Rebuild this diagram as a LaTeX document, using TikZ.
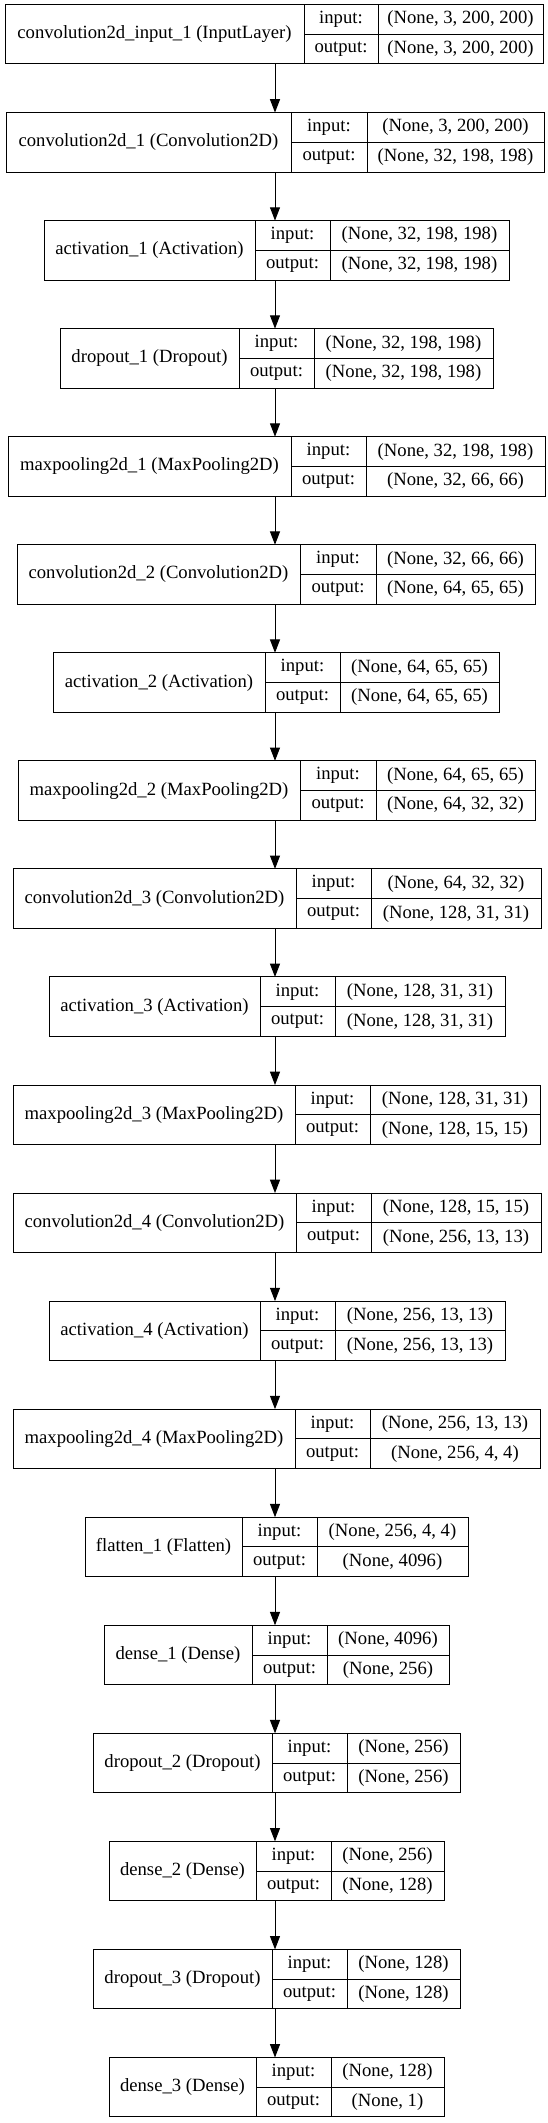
\documentclass[tikz,border=0pt]{standalone}
\usepackage{fontspec}
\setmainfont{Liberation Serif}
\usetikzlibrary{arrows.meta}
\tikzset{every picture/.style={line width=0.75pt}}
\tikzset{
  cell/.style={draw, inner sep=0pt, outer sep=0pt, anchor=north west,
    font=\fontsize{14}{17}\selectfont},
  flow/.style={-{Triangle[length=10pt,width=7.5pt]}}
}

\begin{document}
\begin{tikzpicture}[x=0.75pt,y=0.75pt,yscale=-1,xscale=1]
\useasboundingbox (0,0) rectangle (548,2123);
%axis of the connectors
\coordinate (axis) at (275,0);

%layer records: left / label divider / value divider / right / name / input / output
\foreach \l/\a/\b/\r/\nm/\ins/\outs [count=\i] in {
  5/304/378/543/{convolution2d\_input\_1 (InputLayer)}/{(None, 3, 200, 200)}/{(None, 3, 200, 200)},
  6/291/367/544/{convolution2d\_1 (Convolution2D)}/{(None, 3, 200, 200)}/{(None, 32, 198, 198)},
  44/255/330/509/{activation\_1 (Activation)}/{(None, 32, 198, 198)}/{(None, 32, 198, 198)},
  60/239/314/493/{dropout\_1 (Dropout)}/{(None, 32, 198, 198)}/{(None, 32, 198, 198)},
  8/291/366/545/{maxpooling2d\_1 (MaxPooling2D)}/{(None, 32, 198, 198)}/{(None, 32, 66, 66)},
  17/300/376/535/{convolution2d\_2 (Convolution2D)}/{(None, 32, 66, 66)}/{(None, 64, 65, 65)},
  53/265/340/499/{activation\_2 (Activation)}/{(None, 64, 65, 65)}/{(None, 64, 65, 65)},
  18/300/376/535/{maxpooling2d\_2 (MaxPooling2D)}/{(None, 64, 65, 65)}/{(None, 64, 32, 32)},
  13/296/371/541/{convolution2d\_3 (Convolution2D)}/{(None, 64, 32, 32)}/{(None, 128, 31, 31)},
  49/260/335/505/{activation\_3 (Activation)}/{(None, 128, 31, 31)}/{(None, 128, 31, 31)},
  13/295/370/540/{maxpooling2d\_3 (MaxPooling2D)}/{(None, 128, 31, 31)}/{(None, 128, 15, 15)},
  13/296/371/541/{convolution2d\_4 (Convolution2D)}/{(None, 128, 15, 15)}/{(None, 256, 13, 13)},
  49/260/335/505/{activation\_4 (Activation)}/{(None, 256, 13, 13)}/{(None, 256, 13, 13)},
  13/295/370/540/{maxpooling2d\_4 (MaxPooling2D)}/{(None, 256, 13, 13)}/{(None, 256, 4, 4)},
  85/242/317/468/{flatten\_1 (Flatten)}/{(None, 256, 4, 4)}/{(None, 4096)},
  104/252/327/449/{dense\_1 (Dense)}/{(None, 4096)}/{(None, 256)},
  93/272/347/460/{dropout\_2 (Dropout)}/{(None, 256)}/{(None, 256)},
  109/256/331/444/{dense\_2 (Dense)}/{(None, 256)}/{(None, 128)},
  93/272/347/460/{dropout\_3 (Dropout)}/{(None, 128)}/{(None, 128)},
  109/256/331/444/{dense\_3 (Dense)}/{(None, 128)}/{(None, 1)}}
{
  \pgfmathsetmacro{\t}{4.5+108.05*(\i-1)}
  \pgfmathsetmacro{\m}{\t+29.75}
  \node[cell, minimum width={(\a-\l)*0.75pt}, minimum height=44.625pt] (l\i) at (\l,\t) {\nm};
  \node[cell, minimum width={(\b-\a)*0.75pt}, minimum height=22.31pt] (l\i-in) at (\a,\t) {input:};
  \node[cell, minimum width={(\r-\b)*0.75pt}, minimum height=22.31pt] (l\i-inv) at (\b,\t) {\ins};
  \node[cell, minimum width={(\b-\a)*0.75pt}, minimum height=22.31pt] (l\i-out) at (\a,\m) {output:};
  \node[cell, minimum width={(\r-\b)*0.75pt}, minimum height=22.31pt] (l\i-outv) at (\b,\m) {\outs};
}

%connectors
\foreach \i [evaluate=\i as \j using int(\i+1)] in {1,...,19}
  \draw[flow] (l\i.south -| axis) -- (l\j.north -| axis);
\end{tikzpicture}
\end{document}
